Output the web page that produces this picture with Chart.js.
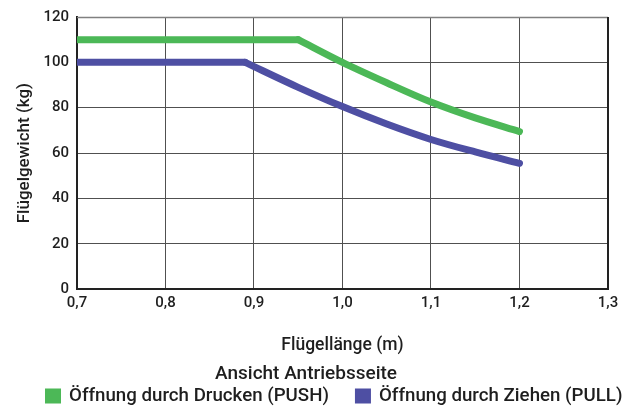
<!DOCTYPE html>
<html>
<head>
<meta charset="utf-8">
<script src="https://cdn.jsdelivr.net/npm/chart.js@4/dist/chart.umd.min.js"></script>
<style>
html,body{margin:0;padding:0;background:#fff;}
#wrap{width:629px;height:408px;}
</style>
</head>
<body>
<div id="wrap"><canvas id="c" width="629" height="408"></canvas></div>
<script>
const pushX = [0.7, 0.95, 1.0, 1.05, 1.1, 1.15, 1.2];
const pushY = [110, 110, 100, 91, 82.5, 75.5, 69.5];
const pullX = [0.7, 0.89, 0.95, 1.0, 1.05, 1.1, 1.15, 1.2];
const pullY = [100, 100, 89, 80.5, 72.8, 66, 60.5, 55.5];
const seriesNames = ['Öffnung durch Drucken (PUSH)', 'Öffnung durch Ziehen (PULL)'];
const xTickValues = [0.7, 0.8, 0.9, 1.0, 1.1, 1.2, 1.3];
const xTickLabels = ['0,7', '0,8', '0,9', '1,0', '1,1', '1,2', '1,3'];
const yTickLabels = ['0', '20', '40', '60', '80', '100', '120'];

const green = '#4cb857';
const purple = '#4e4fa3';
const font = "Roboto, 'DejaVu Sans', sans-serif";
const txt = '#1e1e1e';

const toPts = (xs, ys) => xs.map((x, i) => ({x: x, y: ys[i]}));
// index of the last point of the flat (constant) part
const kneeIdx = (ys) => { let k = 0; while (k + 1 < ys.length && ys[k + 1] === ys[0]) k++; return k; };

function parts(xs, ys, color, name) {
  const pts = toPts(xs, ys), k = kneeIdx(ys);
  const base = {borderColor: color, backgroundColor: color, borderWidth: 7, pointRadius: 0,
                borderCapStyle: 'round', borderJoinStyle: 'round', clip: 0, label: name};
  return [
    Object.assign({}, base, {data: pts.slice(0, k + 1), tension: 0}),
    Object.assign({}, base, {data: pts.slice(k), cubicInterpolationMode: 'monotone'})
  ];
}

const datasets = [...parts(pushX, pushY, green, seriesNames[0]), ...parts(pullX, pullY, purple, seriesNames[1])];
const legendItems = [{text: seriesNames[0], color: green}, {text: seriesNames[1], color: purple}];

new Chart(document.getElementById('c'), {
  type: 'line',
  data: {datasets: datasets},
  options: {
    responsive: false,
    animation: false,
    layout: {padding: {left: 4, right: 21, top: 3, bottom: 14}},
    plugins: {
      tooltip: {enabled: false},
      legend: {display: false},
      title: {
        display: true, position: 'bottom',
        text: 'Ansicht Antriebsseite', color: txt, font: {family: font, size: 19, weight: '500'},
        padding: {top: 2, bottom: 8}
      }
    },
    scales: {
      x: {
        type: 'linear', min: 0.7, max: 1.3,
        afterBuildTicks: (axis) => { axis.ticks = xTickValues.map(v => ({value: v})); },
        ticks: {
          color: txt, font: {family: font, size: 15, weight: '500'}, padding: 5, maxRotation: 0,
          callback: (v) => { const i = xTickValues.findIndex(t => Math.abs(t - v) < 1e-6); return i >= 0 ? xTickLabels[i] : ''; }
        },
        grid: {color: '#505050', lineWidth: 1, drawTicks: false},
        border: {color: '#222', width: 2},
        title: {display: true, text: 'Flügellänge (m)', color: txt, font: {family: font, size: 17.5, weight: '500'}, padding: {top: 18, bottom: 5}}
      },
      y: {
        min: 0, max: 120,
        ticks: {
          stepSize: 20, color: txt, font: {family: font, size: 15, weight: '500'}, padding: 8,
          callback: (v) => yTickLabels[Math.round(v / 20)]
        },
        grid: {color: '#505050', lineWidth: 1, drawTicks: false},
        border: {color: '#222', width: 2},
        title: {display: true, text: 'Flügelgewicht (kg)', color: txt, font: {family: font, size: 17, weight: '500'}, padding: {top: 11, bottom: 0}}
      }
    }
  },
  plugins: [{
    id: 'frameAndLegend',
    afterDraw(chart) {
      const a = chart.chartArea, ctx = chart.ctx;
      ctx.save();
      ctx.strokeStyle = '#808080'; ctx.lineWidth = 1.5;
      ctx.beginPath(); ctx.moveTo(a.left, a.top + 0.5); ctx.lineTo(a.right, a.top + 0.5); ctx.stroke();
      ctx.strokeStyle = '#222'; ctx.lineWidth = 2;
      ctx.beginPath(); ctx.moveTo(a.right, a.top); ctx.lineTo(a.right, a.bottom); ctx.stroke();
      // legend
      ctx.font = "500 18.7px " + font;
      ctx.textBaseline = 'middle';
      ctx.textAlign = 'left';
      const cy = 396;
      let x = 45;
      legendItems.forEach(it => {
        ctx.fillStyle = it.color;
        ctx.fillRect(x, cy - 7.5, 16, 15);
        ctx.fillStyle = txt;
        ctx.fillText(it.text, x + 24, cy);
        x += 24 + ctx.measureText(it.text).width + 26;
      });
      ctx.restore();
    }
  }]
});
</script>
</body>
</html>
